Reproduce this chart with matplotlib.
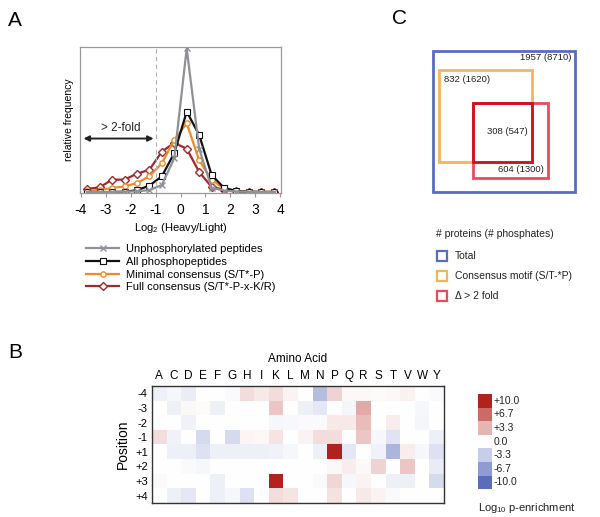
import numpy as np
import matplotlib.pyplot as plt
from matplotlib.colors import LinearSegmentedColormap
from matplotlib.patches import Rectangle

plt.rcParams['font.family'] = ['Liberation Sans', 'DejaVu Sans']
plt.rcParams['mathtext.fontset'] = 'custom'
plt.rcParams['mathtext.rm'] = 'Liberation Sans'
plt.rcParams['axes.unicode_minus'] = False

# ---------------- data: panel A (relative frequency vs log2 H/L) -------------
log2_ratio = [-3.75, -3.25, -2.75, -2.25, -1.75, -1.25, -0.75, -0.25,
              0.25, 0.75, 1.25, 1.75, 2.25, 2.75, 3.25, 3.75]
unphospho = [0.003, 0.002, 0.002, 0.004, 0.007, 0.014, 0.05, 0.235,
             0.99, 0.30, 0.03, 0.012, 0.005, 0.003, 0.002, 0.002]
all_phospho = [0.0, 0.0, 0.002, 0.004, 0.014, 0.046, 0.11, 0.27,
               0.555, 0.395, 0.12, 0.03, 0.008, 0.003, 0.001, 0.001]
minimal_cons = [0.012, 0.016, 0.03, 0.04, 0.064, 0.11, 0.2, 0.36,
                0.475, 0.22, 0.087, 0.025, 0.01, 0.004, 0.003, 0.003]
full_cons = [0.023, 0.034, 0.087, 0.087, 0.128, 0.155, 0.28, 0.34,
             0.30, 0.14, 0.037, 0.018, 0.007, 0.003, 0.003, 0.003]
series_labels = ['Unphosphorylated peptides', 'All phosphopeptides',
                 'Minimal consensus (S/T*-P)', 'Full consensus (S/T*-P-x-K/R)']

# ---------------- data: panel B (log10 p-enrichment heatmap) ----------------
amino_acids = list('ACDEFGHIKLMNPQRSTVWY')
positions = ['-4', '-3', '-2', '-1', '+1', '+2', '+3', '+4']
enrich_m4 = [-1.0, -0.5, -1.2, 0, 0, -0.3, 1.5, 1.0, 1.5, 0.5, 0, -4.5, 2.0, 0.3, 0.3, 0.2, 0.3, 0.6, 0, -0.3]
enrich_m3 = [0, -1.0, 0.3, 0.2, -1.0, 0, 0, 0, 2.5, 0, -1.0, -1.5, 0, -0.6, 3.8, 0, 0, 0, -0.5, 0]
enrich_m2 = [0, 0, -0.8, 0, 0, 0, 0, 0, -0.5, -0.4, -0.3, -0.3, 1.0, 1.0, 3.0, 0, 0.8, 0, -0.6, 0]
enrich_m1 = [1.5, -0.8, 0, -2.5, 0, -2.5, 0.4, 0.3, 1.2, 0, 0.5, 1.5, 1.5, 0, 2.5, -0.5, -1.8, 0, 0, -1.0]
enrich_p1 = [0, -1.0, -1.0, -2.0, -1.0, -1.0, -1.0, -1.0, -0.8, -0.5, 0, -1.0, 10.0, -1.5, 0, -0.8, -5.0, 0.8, -0.5, -2.0]
enrich_p2 = [0, 0, -0.3, -0.5, 0, 0, 0, 0, 0, 0, 0, 0, 0.3, 0.8, 0.3, 2.0, 0, 2.5, 0, -1.3]
enrich_p3 = [-0.3, 0, 0, 0, -1.0, 0, 0, 0, 10.0, 0, 0, -0.3, 1.8, -0.5, 0.5, 0, -1.0, -1.0, 0, -2.5]
enrich_p4 = [0, -1.0, -1.5, 0, -1.0, -0.5, -2.0, 0, 1.5, 1.2, 0, 0, 1.3, 0, 1.0, 0.5, -0.3, 0, 0, 0]
legend_levels = [10.0, 6.7, 3.3, 0.0, -3.3, -6.7, -10.0]

# ---------------- data: panel C (nested boxes) ------------------------------
venn_labels = ['1957 (8710)', '832 (1620)', '308 (547)', '604 (1300)']
venn_legend = ['Total', 'Consensus motif (S/T-*P)', '\u0394 > 2 fold']

# colours
c_gray, c_black, c_orange, c_red = '#8f9196', '#111111', '#ef8a2a', '#a3282a'
c_blue, c_lorange, c_lred, c_dred = '#5b6bbf', '#f6b45a', '#ea4a5a', '#d0101c'

fig = plt.figure(figsize=(6, 5.17), dpi=100)

# ---------------- panel A ----------------
ax = fig.add_axes([80 / 600, 1 - 193 / 517, 201 / 600, 146 / 517])
ax.plot(log2_ratio, full_cons, color=c_red, lw=1.6, marker='D', ms=3.6,
        mfc='white', mec=c_red, mew=1.0, label=series_labels[3])
ax.plot(log2_ratio, minimal_cons, color=c_orange, lw=1.6, marker='o', ms=3.8,
        mfc='white', mec=c_orange, mew=1.0, label=series_labels[2])
ax.plot(log2_ratio, all_phospho, color=c_black, lw=1.6, marker='s', ms=4.2,
        mfc='white', mec=c_black, mew=0.8, label=series_labels[1])
ax.plot(log2_ratio, unphospho, color=c_gray, lw=1.6, marker='x', ms=5,
        mec=c_gray, mew=1.0, label=series_labels[0])
ax.axvline(-1, color='#b0b0b0', lw=0.8, ls=(0, (4, 3)))
ax.annotate('', xy=(-3.9, 0.37), xytext=(-1.08, 0.37),
            arrowprops=dict(arrowstyle='<|-|>', color='#222222', lw=1.4,
                            mutation_scale=8, shrinkA=0, shrinkB=0))
ax.text(-2.4, 0.44, '> 2-fold', ha='center', va='center', fontsize=8.5, color='#222222')
ax.set_xlim(-4.04, 4.04)
ax.set_ylim(-0.005, 1.0)
ax.set_xticks(range(-4, 5))
ax.set_yticks([])
ax.tick_params(axis='x', labelsize=10, length=3, pad=4, color='#999999')
ax.set_xlabel('Log$_2$ (Heavy/Light)', fontsize=8, labelpad=3)
ax.set_ylabel('relative frequency', fontsize=7.5, labelpad=4)
for sp in ax.spines.values():
    sp.set_color('#999999')
    sp.set_linewidth(0.9)

handles, labels = ax.get_legend_handles_labels()
fig.legend(handles[::-1], labels[::-1], loc='upper left',
           bbox_to_anchor=(86 / 600, 1 - 244 / 517), frameon=False,
           fontsize=8, handlelength=3.0, handletextpad=0.6,
           labelspacing=0.25, borderpad=0, borderaxespad=0)

# ---------------- panel B ----------------
cmap = LinearSegmentedColormap.from_list('enrich', ['#5a6cba', '#ffffff', '#b1221e'])
grid = np.array([enrich_m4, enrich_m3, enrich_m2, enrich_m1,
                 enrich_p1, enrich_p2, enrich_p3, enrich_p4])
axb = fig.add_axes([152 / 600, 1 - 503 / 517, 292 / 600, 117 / 517])
axb.imshow(grid, cmap=cmap, vmin=-10, vmax=10, aspect='auto', interpolation='nearest')
axb.set_xticks(range(len(amino_acids)))
axb.set_xticklabels(amino_acids)
axb.set_yticks(range(len(positions)))
axb.set_yticklabels(positions)
axb.xaxis.tick_top()
axb.xaxis.set_label_position('top')
axb.tick_params(length=0, pad=3)
axb.tick_params(axis='x', labelsize=8.5)
axb.tick_params(axis='y', labelsize=8)
axb.set_xlabel('Amino Acid', fontsize=8.5, labelpad=6)
axb.set_ylabel('Position', fontsize=10, labelpad=4)
for sp in axb.spines.values():
    sp.set_color('#333333')
    sp.set_linewidth(1.0)

# ---------------- overlay: letters, panel C, colour key ----------------
ov = fig.add_axes([0, 0, 1, 1])
ov.set_xlim(0, 600)
ov.set_ylim(517, 0)
ov.axis('off')

for letter, (lx, ly) in zip('ABC', [(8, 20), (8, 352), (392, 18)]):
    ov.text(lx, ly, letter, fontsize=15, ha='left', va='center')

# nested boxes
boxes = {
    'total': (433, 51, 142, 141, c_blue),
    'motif': (439, 70, 93, 92, c_lorange),
    'fold': (473, 103, 75, 75, c_lred),
    'both': (473, 103, 59, 59, c_dred),
}
for name, (bx, by, bw, bh, col) in boxes.items():
    ov.add_patch(Rectangle((bx, by), bw, bh, fill=False, edgecolor=col, lw=2.0))
ov.text(571, 58, venn_labels[0], ha='right', va='center', fontsize=6.8, color='#222222')
ov.text(444, 80, venn_labels[1], ha='left', va='center', fontsize=6.8, color='#222222')
ov.text(507, 132, venn_labels[2], ha='center', va='center', fontsize=6.8, color='#222222')
ov.text(521, 169, venn_labels[3], ha='center', va='center', fontsize=6.8, color='#222222')

ov.text(436, 234, '# proteins (# phosphates)', ha='left', va='center', fontsize=7.5, color='#222222')
for i, (lab, col) in enumerate(zip(venn_legend, [c_blue, c_lorange, c_lred])):
    yy = 256 + i * 20
    ov.add_patch(Rectangle((437, yy - 5), 10, 10, fill=False, edgecolor=col, lw=1.6))
    ov.text(455, yy, lab, ha='left', va='center', fontsize=7.5, color='#222222')

# colour key for panel B
for i, lev in enumerate(legend_levels):
    yy = 394 + i * 13.6
    ov.add_patch(Rectangle((478, yy), 14, 13.6, facecolor=cmap((lev + 10) / 20),
                           edgecolor='none'))
    ov.text(494, yy + 6.8, f'{lev:+.1f}' if lev != 0 else '0.0',
            ha='left', va='center', fontsize=7.5, color='#222222')
ov.text(478, 508, 'Log$_{10}$ p-enrichment', ha='left', va='center', fontsize=8, color='#222222')

fig.savefig('out.png', dpi=100)
